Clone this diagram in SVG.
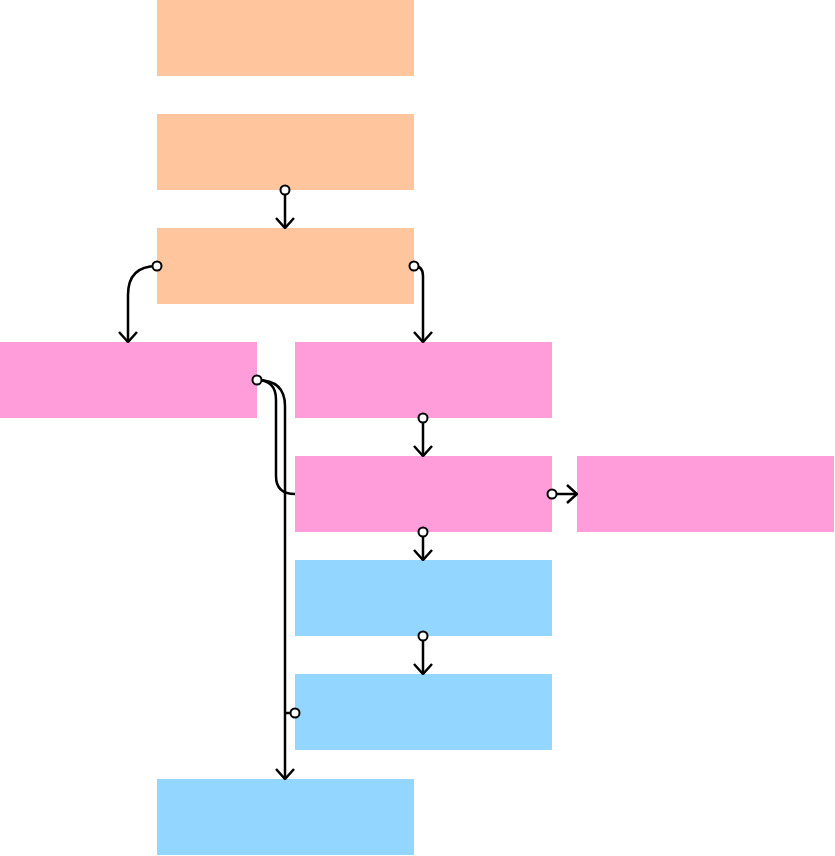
<svg xmlns="http://www.w3.org/2000/svg" width="835" height="856" viewBox="0 0 835 856">
<defs>
<style>
.o{fill:#FFC69D}.p{fill:#FF9DDA}.b{fill:#93D6FF}
.e{fill:none;stroke:#000;stroke-width:2.5}
.dot{fill:#fff;stroke:#000;stroke-width:2}
</style>
<marker id="ah" viewBox="0 0 12 20" refX="11" refY="10" markerWidth="12" markerHeight="20" markerUnits="userSpaceOnUse" orient="auto">
<path d="M1,1 L11,10 L1,19" fill="none" stroke="#000" stroke-width="2.5"/>
</marker>
</defs>
<rect width="835" height="856" fill="#fff"/>
<g id="n1"><rect class="o" x="157" y="0" width="257" height="76"/></g>
<g id="n2"><rect class="o" x="157" y="114" width="257" height="76"/></g>
<g id="n3"><rect class="o" x="157" y="228" width="257" height="76"/></g>
<g id="n4"><rect class="p" x="0" y="342" width="257" height="76"/></g>
<g id="n5"><rect class="p" x="295" y="342" width="257" height="76"/></g>
<g id="n6"><rect class="p" x="295" y="456" width="257" height="76"/></g>
<g id="n7"><rect class="p" x="577" y="456" width="257" height="76"/></g>
<g id="n8"><rect class="b" x="295" y="560" width="257" height="76"/></g>
<g id="n9"><rect class="b" x="295" y="674" width="257" height="76"/></g>
<g id="n10"><rect class="b" x="157" y="779" width="257" height="76"/></g>
<g id="edges">
<path class="e" d="M285,190 V228" marker-end="url(#ah)"/>
<path class="e" d="M157,266 Q128,266 128,295 V342" marker-end="url(#ah)"/>
<path class="e" d="M414,266 Q423,266 423,276 V342" marker-end="url(#ah)"/>
<path class="e" d="M257,380 Q285,380 285,406 V779" marker-end="url(#ah)"/>
<path class="e" d="M257,380 Q276,380 276,400 V476 Q276,494 295,494"/>
<path class="e" d="M295,713 H285"/>
<path class="e" d="M423,418 V456" marker-end="url(#ah)"/>
<path class="e" d="M552,494 H577" marker-end="url(#ah)"/>
<path class="e" d="M423,532 V560" marker-end="url(#ah)"/>
<path class="e" d="M423,636 V674" marker-end="url(#ah)"/>
<circle class="dot" cx="285" cy="190" r="4.5"/>
<circle class="dot" cx="157" cy="266" r="4.5"/>
<circle class="dot" cx="414" cy="266" r="4.5"/>
<circle class="dot" cx="257" cy="380" r="4.5"/>
<circle class="dot" cx="295" cy="713" r="4.5"/>
<circle class="dot" cx="423" cy="418" r="4.5"/>
<circle class="dot" cx="552" cy="494" r="4.5"/>
<circle class="dot" cx="423" cy="532" r="4.5"/>
<circle class="dot" cx="423" cy="636" r="4.5"/>
</g>
</svg>
